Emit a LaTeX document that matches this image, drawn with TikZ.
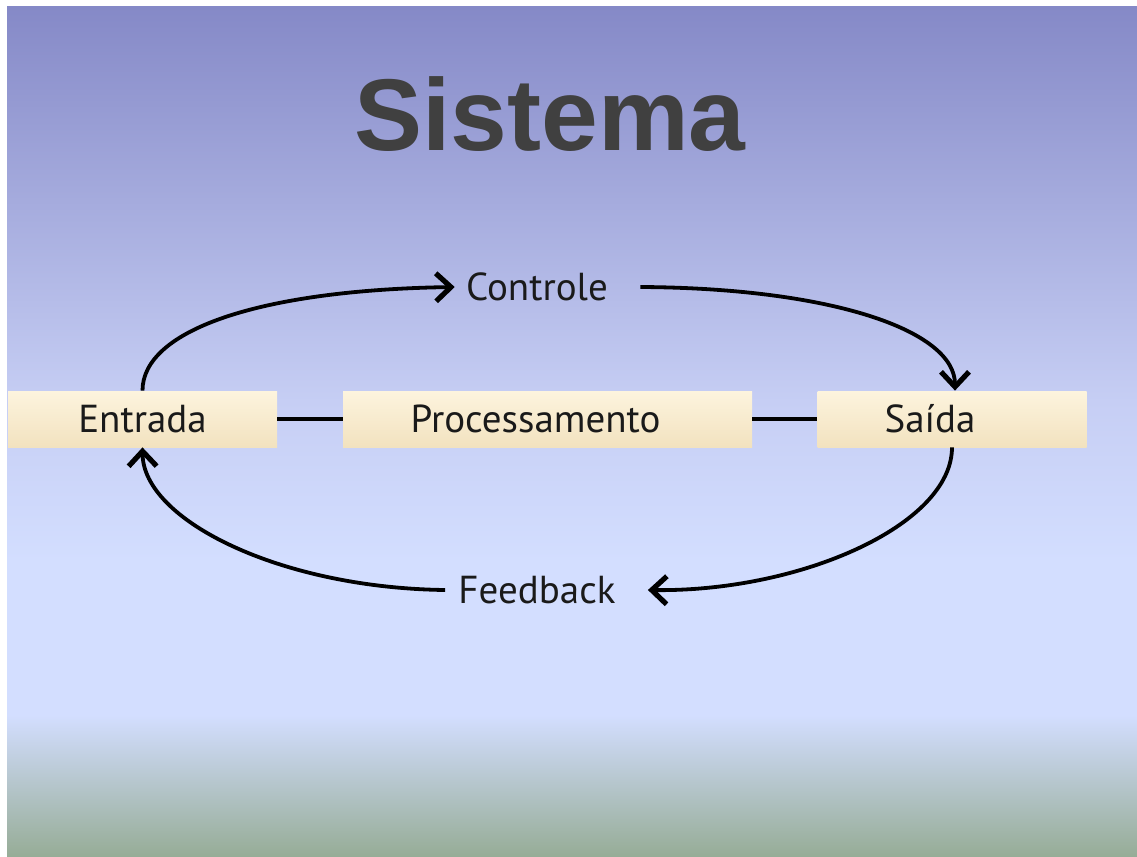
\documentclass[tikz,border=0pt]{standalone}
\usepackage{fontspec}
\setmainfont{PT Sans}
\newfontfamily\titlefont{Liberation Sans}
\usetikzlibrary{arrows.meta}
\definecolor{bgA}{HTML}{8589C7}
\definecolor{bgB}{HTML}{C6CEF4}
\definecolor{bgC}{HTML}{D3DEFF}
\definecolor{bgD}{HTML}{96AC96}
\definecolor{boxtop}{HTML}{FDF4DE}
\definecolor{boxbot}{HTML}{F2E2BF}
\definecolor{titlegray}{HTML}{404040}
\definecolor{txt}{HTML}{1A1A1A}
\tikzset{
  stagebox/.style={minimum width=134.5pt, minimum height=28pt, inner sep=0pt,
    top color=boxtop, bottom color=boxbot, text=txt, font=\fontsize{19.5pt}{22pt}\selectfont},
  lbl/.style={inner sep=0pt, text=txt, font=\fontsize{19.5pt}{22pt}\selectfont},
  link/.style={line width=1.9pt, black},
  flow/.style={line width=1.9pt, black, -{Straight Barb[length=7.5pt,width=14pt,line width=2.6pt]}},
}
\begin{document}
\begin{tikzpicture}[x=0.5pt,y=-0.5pt]
\useasboundingbox (0,0) rectangle (1137,857);
\fill[white] (0,0) rectangle (1137,857);
% background
\shade[top color=bgA, bottom color=bgB] (7,6) rectangle (1137,401);
\shade[top color=bgB, bottom color=bgC] (7,400) rectangle (1137,561);
\fill[bgC] (7,560) rectangle (1137,716);
\shade[top color=bgC, bottom color=bgD] (7,715) rectangle (1137,857);
% title
\node[anchor=base, text=titlegray, font=\titlefont\bfseries\fontsize{51pt}{58pt}\selectfont, inner sep=0pt] (title) at (550,150) {Sistema};
% boxes
\node[stagebox] (entrada) at (142.5,419) {Entrada};
\node[stagebox, minimum width=204.5pt] (proc) at (547.5,419) {Processamento\hspace*{12pt}};
\node[stagebox] (saida) at (952,419) {Saída\hspace*{22pt}};
% labels
\node[lbl] (controle) at (537,287) {Controle};
\node[lbl] (feedback) at (537,590) {Feedback};
% links
\draw[link] (entrada.east) -- (proc.west);
\draw[link] (proc.east) -- (saida.west);
% flows
\draw[flow] (entrada.north) .. controls (142.5,330) and (260,290) .. ([xshift=-5.5pt]controle.west);
\draw[flow] ([xshift=16pt]controle.east) .. controls (830,288) and (955,330) .. ([xshift=1.5pt]saida.north);
\draw[flow] (saida.south) .. controls (952,525) and (800,592) .. ([xshift=16pt]feedback.east);
\draw[flow] ([xshift=-6.5pt]feedback.west) .. controls (280,588) and (143,520) .. (entrada.south);
\end{tikzpicture}
\end{document}
